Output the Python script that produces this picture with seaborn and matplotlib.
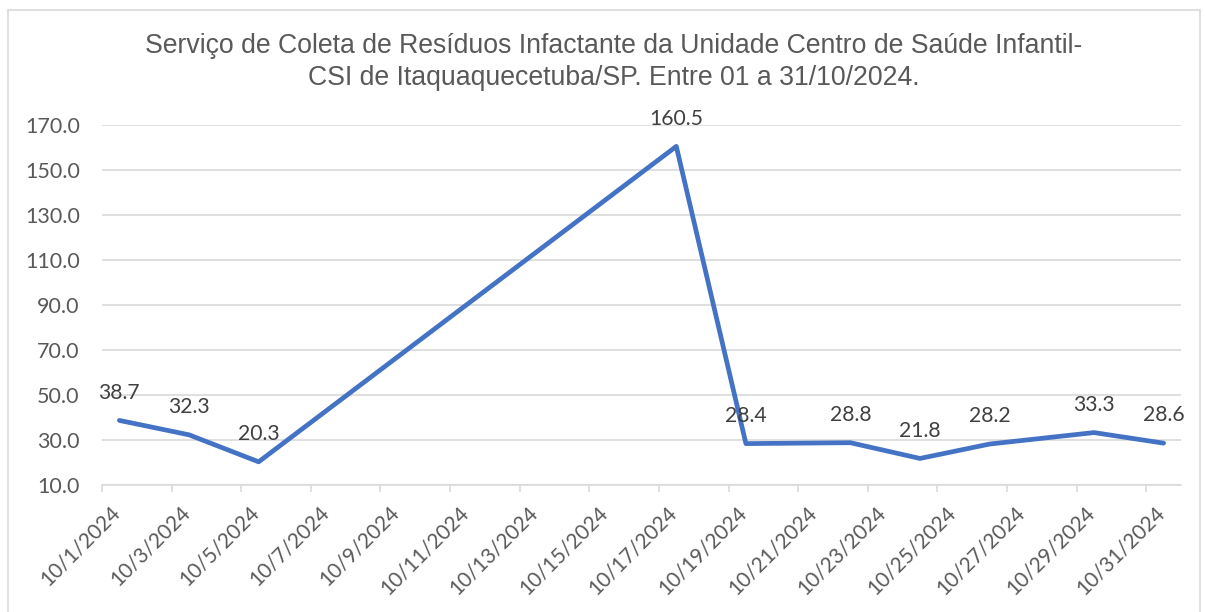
import pandas as pd
import seaborn as sns
import matplotlib.pyplot as plt
import matplotlib.dates as mdates
import matplotlib.transforms as mtransforms
from matplotlib.ticker import FuncFormatter
from matplotlib.patches import Rectangle

# data (day of October 2024 -> kg)
days = [1, 3, 5, 17, 19, 22, 24, 26, 29, 31]
values = [38.7, 32.3, 20.3, 160.5, 28.4, 28.8, 21.8, 28.2, 33.3, 28.6]
title_lines = ["Serviço de Coleta de Resíduos Infactante da Unidade Centro de Saúde Infantil-",
               "CSI de Itaquaquecetuba/SP. Entre 01 a 31/10/2024."]

# Excel date axis puts each point in the middle of its day
df = pd.DataFrame({
    "data": pd.to_datetime([f"2024-10-{d:02d}" for d in days]) + pd.Timedelta(hours=12),
    "valor": values,
})

sns.set_style("white")
plt.rcParams["font.family"] = ["Lato", "DejaVu Sans"]

grey_text = "#595959"
grid_col = "#d9d9d9"
line_col = "#4472c4"

fig = plt.figure(figsize=(12.05, 6.12), dpi=100)
ax = fig.add_axes([102 / 1205, 1 - 485 / 612, (1181 - 102) / 1205, (485 - 125) / 612])

sns.lineplot(data=df, x="data", y="valor", ax=ax, color=line_col, linewidth=3.4)

ax.set_xlim(pd.Timestamp("2024-10-01"), pd.Timestamp("2024-11-01"))
ax.set_ylim(10, 170)
ax.set_yticks(range(10, 171, 20))
ax.yaxis.set_major_formatter(FuncFormatter(lambda v, p: f"{v:.1f}"))

ax.set_xticks(pd.date_range("2024-10-01", "2024-10-31", freq="2D"))
ax.xaxis.set_major_formatter(FuncFormatter(
    lambda v, p: (lambda d: f"{d.month}/{d.day}/{d.year}")(mdates.num2date(v))))

ax.grid(axis="y", color=grid_col, linewidth=1.2)
ax.grid(axis="x", visible=False)
for s in ["left", "right", "top"]:
    ax.spines[s].set_visible(False)
ax.spines["bottom"].set_color(grid_col)
ax.spines["bottom"].set_linewidth(1.2)

ax.tick_params(axis="x", length=5, color=grid_col, width=1.2, labelsize=15,
               labelcolor=grey_text, pad=12.5, bottom=True)
ax.tick_params(axis="y", length=0, labelsize=15.5, labelcolor=grey_text, pad=16)
shift = mtransforms.ScaledTranslation(15 / 100, 0, fig.dpi_scale_trans)
for lab in ax.get_xticklabels():
    lab.set_rotation(45)
    lab.set_ha("right")
    lab.set_va("center")
    lab.set_rotation_mode("anchor")
    lab.set_transform(lab.get_transform() + shift)
ax.set_xlabel("")
ax.set_ylabel("")

for x, y in zip(df["data"], df["valor"]):
    ax.annotate(f"{y:.1f}", (x, y), xytext=(0, 20), textcoords="offset points",
                ha="center", va="center", fontsize=15.2, color="#404040")

fig.text(0.509, 1 - 46 / 612, title_lines[0], ha="center", va="center",
         fontsize=19.2, color=grey_text, family=["Liberation Sans", "DejaVu Sans"])
fig.text(0.509, 1 - 78 / 612, title_lines[1], ha="center", va="center",
         fontsize=19.2, color=grey_text, family=["Liberation Sans", "DejaVu Sans"])

# chart-area frame
fig.patches.append(Rectangle((8 / 1205, -0.02), (1200 - 8) / 1205, 1.02 - 10 / 612,
                             transform=fig.transFigure, fill=False,
                             edgecolor=grid_col, linewidth=1.2))

fig.savefig("out.png", dpi=100)
